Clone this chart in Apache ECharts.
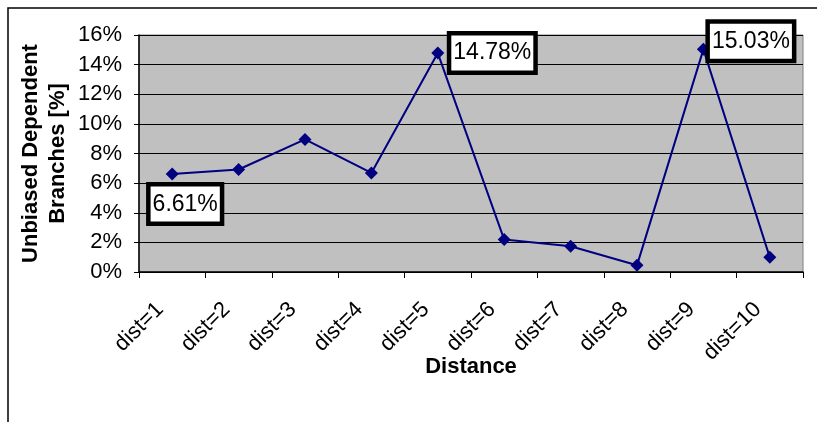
<!DOCTYPE html>
<html>
<head>
<meta charset="utf-8">
<script src="https://cdn.jsdelivr.net/npm/echarts@6/dist/echarts.min.js"></script>
<style>
  html, body { margin: 0; padding: 0; background: #fff; }
  #chart { width: 817px; height: 422px; }
</style>
</head>
<body>
<div id="chart"></div>
<script>
// Share of unbiased dependent branches per branch distance (percent)
const categories = ['dist=1', 'dist=2', 'dist=3', 'dist=4', 'dist=5', 'dist=6', 'dist=7', 'dist=8', 'dist=9', 'dist=10'];
const values = [6.61, 6.92, 8.95, 6.69, 14.78, 2.19, 1.74, 0.45, 15.03, 0.99];
// Indices of the points that carry a value callout
const labelled = [0, 4, 8];
const yTicks = { min: 0, max: 16, interval: 2 };

const FONT = 'Liberation Sans, Arial, sans-serif';

// Callout placement for each labelled point
const calloutPlacement = {
  0: { position: 'bottom', offset: [13, 1] },
  4: { position: 'right', offset: [2, 0] },
  8: { position: 'right', offset: [-5, -8] }
};

const seriesData = values.map((v, i) => {
  if (!labelled.includes(i)) return v;
  const p = calloutPlacement[i];
  return {
    value: v,
    label: {
      show: true,
      position: p.position,
      offset: p.offset,
      distance: 5,
      formatter: (d) => d.value.toFixed(2) + '%',
      color: '#000',
      fontFamily: FONT,
      fontSize: 23,
      lineHeight: 24,
      backgroundColor: '#fff',
      borderColor: '#000',
      borderWidth: 4.5,
      padding: [6, 2, 5, 2]
    }
  };
});

const chart = echarts.init(document.getElementById('chart'), null, { renderer: 'canvas' });

chart.setOption({
  animation: false,
  backgroundColor: '#fff',
  grid: {
    left: 139, right: 14, top: 35, bottom: 150,
    containLabel: false,
    outerBoundsMode: 'none',
    show: true,
    backgroundColor: '#C0C0C0',
    borderColor: '#808080',
    borderWidth: 1
  },
  graphic: [{
    type: 'rect',
    shape: { x: 8, y: 8, width: 830, height: 440 },
    style: { fill: 'none', stroke: '#000', lineWidth: 1.5 },
    silent: true,
    z: -1
  }],
  xAxis: {
    type: 'category',
    data: categories,
    boundaryGap: true,
    name: 'Distance',
    nameLocation: 'middle',
    nameGap: 84,
    nameMoveOverlap: false,
    nameTextStyle: { fontFamily: FONT, fontSize: 22, fontWeight: 'bold', color: '#000' },
    axisLine: { lineStyle: { color: '#000', width: 1.5 } },
    axisTick: { show: true, length: 6, inside: false, lineStyle: { color: '#000' } },
    axisLabel: {
      rotate: 45,
      margin: 22,
      padding: [0, 17, 0, 0],
      fontFamily: FONT,
      fontSize: 22,
      color: '#000',
      interval: 0
    },
    splitLine: { show: false }
  },
  yAxis: {
    type: 'value',
    min: yTicks.min,
    max: yTicks.max,
    interval: yTicks.interval,
    name: 'Unbiased Dependent\nBranches [%]',
    nameLocation: 'middle',
    nameGap: 68,
    nameMoveOverlap: false,
    nameRotate: 90,
    nameTextStyle: { fontFamily: FONT, fontSize: 22, fontWeight: 'bold', color: '#000', lineHeight: 27 },
    axisLine: { show: true, lineStyle: { color: '#000', width: 1.5 } },
    axisTick: { show: true, length: 5, lineStyle: { color: '#000' } },
    axisLabel: {
      formatter: '{value}%',
      margin: 17,
      fontFamily: FONT,
      fontSize: 22,
      color: '#000'
    },
    splitLine: { show: true, lineStyle: { color: '#000', width: 1 } }
  },
  series: [{
    type: 'line',
    data: seriesData,
    symbol: 'diamond',
    symbolSize: 13,
    itemStyle: { color: '#000080' },
    lineStyle: { color: '#000080', width: 2 },
    z: 5
  }]
});
</script>
</body>
</html>
